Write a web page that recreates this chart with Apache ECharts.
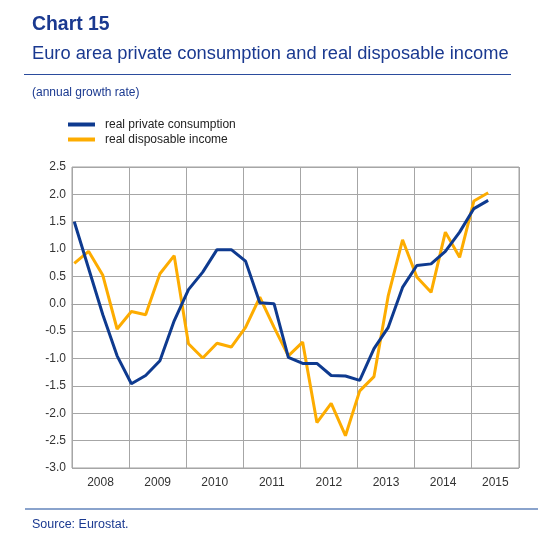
<!DOCTYPE html>
<html>
<head>
<meta charset="utf-8">
<script src="https://cdn.jsdelivr.net/npm/echarts@6/dist/echarts.min.js"></script>
<style>
html,body{margin:0;padding:0;background:#fff;}
#c{width:550px;height:535px;}
</style>
</head>
<body>
<div id="c"></div>
<script>
// quarterly observations
var quarters = ['2008Q1','2008Q2','2008Q3','2008Q4','2009Q1','2009Q2','2009Q3','2009Q4',
  '2010Q1','2010Q2','2010Q3','2010Q4','2011Q1','2011Q2','2011Q3','2011Q4',
  '2012Q1','2012Q2','2012Q3','2012Q4','2013Q1','2013Q2','2013Q3','2013Q4',
  '2014Q1','2014Q2','2014Q3','2014Q4','2015Q1','2015Q2'];
var consumption = [1.5, 0.65, -0.2, -0.95, -1.46, -1.31, -1.04, -0.31,
  0.26, 0.58, 0.99, 0.99, 0.78, 0.02, 0.0, -0.98,
  -1.09, -1.09, -1.31, -1.32, -1.40, -0.82, -0.43, 0.30,
  0.70, 0.73, 0.96, 1.31, 1.74, 1.89];
var income = [0.74, 0.96, 0.52, -0.46, -0.14, -0.20, 0.55, 0.88,
  -0.73, -0.99, -0.72, -0.79, -0.43, 0.12, -0.43, -0.95,
  -0.70, -2.17, -1.82, -2.41, -1.59, -1.33, 0.15, 1.17,
  0.49, 0.21, 1.31, 0.85, 1.88, 2.03];
var yearLabels = ['2008','2009','2010','2011','2012','2013','2014','2015'];
var seriesNames = ['real private consumption', 'real disposable income'];

var AX_MIN = 2008, AX_MAX = 2015.83;
function qx(q) { var y = parseInt(q.slice(0,4),10); var n = parseInt(q.slice(5),10); return y + (n-1)/4 + 0.04; }
function pairs(vals) { return quarters.map(function(q,i){ return [qx(q), vals[i]]; }); }
var labelPos = yearLabels.map(function(y){ var s = parseInt(y,10); var e = Math.min(s+1, AX_MAX); return (s+e)/2; });

var FONT = '"Liberation Sans", Arial, sans-serif';
var NAVY = '#1a3990';

var chart = echarts.init(document.getElementById('c'), null, {renderer:'canvas'});
chart.setOption({
  animation: false,
  backgroundColor: '#ffffff',
  textStyle: { fontFamily: FONT },
  graphic: [
    { type:'text', left:32, top:15, style:{ text:'Chart 15', font:'bold 19.4px ' + FONT, fill: NAVY } },
    { type:'text', left:32, top:45, style:{ text:'Euro area private consumption and real disposable income', font:'18.3px ' + FONT, fill: NAVY } },
    { type:'line', shape:{ x1:24, y1:74.5, x2:511, y2:74.5 }, style:{ stroke:'#2b4c9d', lineWidth:1 } },
    { type:'text', left:32, top:87, style:{ text:'(annual growth rate)', font:'12px ' + FONT, fill: NAVY } },
    { type:'line', shape:{ x1:25, y1:509, x2:538, y2:509 }, style:{ stroke:'#8aa3cc', lineWidth:2 } },
    { type:'text', left:32, top:518, style:{ text:'Source: Eurostat.', font:'12.5px ' + FONT, fill: NAVY } }
  ],
  legend: {
    orient: 'vertical',
    left: 68, top: 117.5, padding: 0,
    itemWidth: 27, itemHeight: 4, itemGap: 1,
    icon: 'rect',
    data: seriesNames,
    textStyle: { fontFamily: FONT, fontSize: 12, color: '#222', padding:[0,0,0,5], lineHeight: 14 }
  },
  grid: { left: 72, right: 31, top: 167, bottom: 67, show: true, borderColor: '#a0a0a0', borderWidth: 1, containLabel: false },
  xAxis: {
    type: 'value', min: AX_MIN, max: AX_MAX, interval: 1,
    axisLine: { show: true, lineStyle: { color: '#a0a0a0' } },
    axisTick: { show: true, length: 6, lineStyle: { color: '#a0a0a0' } },
    axisLabel: { customValues: labelPos, formatter: function(v){ return String(Math.floor(v)); }, fontSize: 12, color: '#333', margin: 9, fontFamily: FONT },
    splitLine: { show: true, lineStyle: { color: '#a6a6a6', width: 1 } }
  },
  yAxis: {
    type: 'value', min: -3, max: 2.5, interval: 0.5,
    axisLine: { show: false },
    axisTick: { show: false },
    axisLabel: { formatter: function(v){ return v.toFixed(1); }, fontSize: 12, color: '#333', margin: 6, fontFamily: FONT },
    splitLine: { show: true, lineStyle: { color: '#a6a6a6', width: 1 } }
  },
  series: [
    { name: seriesNames[1], type: 'line', data: pairs(income), symbol: 'none', z: 2,
      lineStyle: { color: '#fdac00', width: 3 }, itemStyle: { color: '#fdac00' } },
    { name: seriesNames[0], type: 'line', data: pairs(consumption), symbol: 'none', z: 3,
      lineStyle: { color: '#0e3a8f', width: 3 }, itemStyle: { color: '#0e3a8f' } }
  ]
});
</script>
</body>
</html>
